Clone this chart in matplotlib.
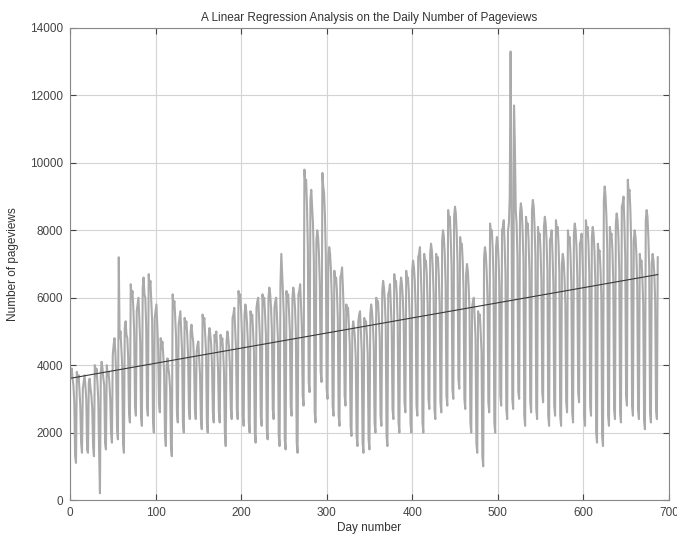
import numpy as np
import matplotlib
matplotlib.use("Agg")
import matplotlib.pyplot as plt

plt.rcParams['font.family'] = ['Liberation Sans', 'DejaVu Sans']

# Daily pageviews, one row per week (5 weekdays, 2 weekend days)
weeks = [
    [3700, 3900, 3600, 3400, 2900, 1300, 1100],
    [3800, 3500, 3700, 3300, 2800, 1700, 1400],
    [3300, 3500, 3700, 3400, 3000, 1500, 1400],
    [3500, 3600, 3300, 3100, 2700, 1600, 1300],
    [4000, 3700, 3900, 3500, 3000, 1500, 200],
    [3800, 4100, 3900, 3600, 3400, 1700, 1500],
    [4000, 3700, 3800, 3500, 3000, 2000, 1700],
    [4300, 4600, 4800, 4400, 3700, 2100, 1800],
    [7200, 4800, 5000, 4500, 4000, 1700, 1400],
    [5100, 5300, 4900, 4800, 4200, 2600, 2300],
    [6400, 6000, 6200, 5700, 5000, 2800, 2500],
    [5600, 5800, 6000, 5400, 4700, 2500, 2200],
    [6300, 6600, 6100, 6000, 5200, 2800, 2500],
    [6700, 6300, 6500, 5900, 5300, 2400, 2000],
    [5400, 5600, 5800, 5200, 4500, 2900, 2600],
    [4800, 4500, 4700, 4300, 3800, 2000, 1600],
    [4000, 4200, 3900, 3700, 3300, 1600, 1300],
    [6100, 5700, 5900, 5400, 4800, 2600, 2300],
    [5200, 5400, 5600, 5000, 4400, 2300, 2000],
    [5400, 5100, 5300, 4900, 4300, 2700, 2400],
    [5000, 5200, 4900, 4700, 4100, 2700, 2400],
    [4400, 4600, 4700, 4200, 3700, 2400, 2100],
    [5500, 5200, 5400, 4900, 4400, 2300, 2000],
    [4800, 5100, 4900, 4600, 4000, 2600, 2300],
    [4900, 4700, 5000, 4500, 3900, 2600, 2300],
    [4900, 4600, 4800, 4400, 3800, 2000, 1600],
    [4700, 5000, 4800, 4500, 3900, 2700, 2400],
    [5400, 5500, 5700, 5100, 4500, 2700, 2400],
    [6200, 5900, 6100, 5600, 4900, 2500, 2200],
    [5500, 5800, 5600, 5200, 4600, 2300, 2000],
    [5600, 5300, 5500, 5000, 4400, 2000, 1700],
    [5700, 5900, 6000, 5400, 4800, 2500, 2200],
    [6100, 5800, 6000, 5500, 4900, 2100, 1800],
    [6000, 6300, 6100, 5700, 5000, 2700, 2400],
    [5700, 5900, 6000, 5400, 4800, 1900, 1600],
    [6400, 7300, 6700, 6100, 5400, 1800, 1500],
    [6200, 5900, 6100, 5600, 5000, 2800, 2500],
    [6000, 6300, 6100, 5700, 5000, 1700, 1400],
    [6100, 6200, 6400, 5800, 5100, 3100, 2800],
    [9800, 9400, 9500, 8700, 7500, 3500, 3200],
    [8900, 9200, 8700, 8200, 7100, 2600, 2300],
    [7700, 8000, 7800, 7300, 6400, 3800, 3500],
    [9700, 9300, 9100, 8400, 7300, 3300, 3000],
    [7200, 7500, 7300, 6800, 6000, 2800, 2500],
    [6800, 6500, 6600, 6200, 5400, 2500, 2200],
    [6600, 6700, 6900, 6300, 5500, 3100, 2800],
    [5800, 5500, 5700, 5200, 4600, 2200, 1900],
    [5000, 5300, 5100, 4800, 4200, 1900, 1600],
    [5300, 5500, 5600, 5000, 4400, 1700, 1400],
    [5400, 5100, 5300, 4900, 4300, 1800, 1500],
    [5500, 5800, 5600, 5200, 4600, 2300, 2000],
    [6000, 5700, 5900, 5400, 4800, 2500, 2200],
    [6200, 6500, 6300, 5900, 5200, 1900, 1600],
    [6100, 6200, 6400, 5800, 5100, 2700, 2400],
    [6700, 6400, 6500, 6100, 5300, 2300, 2000],
    [6300, 6600, 6400, 6000, 5300, 2900, 2600],
    [6800, 6500, 6600, 6200, 5400, 2300, 2000],
    [6800, 7100, 6900, 6500, 5700, 2800, 2500],
    [7200, 7300, 7500, 6800, 6000, 2300, 2000],
    [7300, 7000, 7100, 6700, 5800, 3000, 2700],
    [7300, 7600, 7400, 6900, 6100, 2700, 2400],
    [7300, 7000, 7200, 6700, 5800, 2900, 2600],
    [7700, 8000, 7800, 7300, 6400, 3100, 2800],
    [8600, 8300, 8400, 7800, 6900, 3300, 3000],
    [8400, 8700, 8500, 7900, 7000, 3600, 3300],
    [7800, 7500, 7600, 7100, 6200, 3000, 2700],
    [6700, 7000, 6800, 6300, 5600, 2300, 2000],
    [5700, 5900, 6000, 5400, 4800, 1700, 1400],
    [5600, 5300, 5500, 5000, 4400, 1300, 1000],
    [7200, 7500, 7300, 6800, 6000, 2900, 2600],
    [8200, 7900, 8000, 7500, 6600, 2300, 2000],
    [7500, 7800, 7600, 7100, 6300, 3100, 2800],
    [8000, 8100, 8300, 7600, 6700, 2700, 2400],
    [8000, 8200, 9000, 13300, 9500, 3000, 2700],
    [11700, 10500, 8600, 8200, 7200, 3200, 3000],
    [8500, 8800, 8600, 8000, 7100, 2500, 2200],
    [8400, 8100, 8200, 7700, 6800, 2900, 2600],
    [8600, 8900, 8700, 8100, 7200, 2700, 2400],
    [8100, 7800, 7900, 7400, 6500, 3200, 2900],
    [8100, 8400, 8200, 7700, 6800, 2500, 2200],
    [7700, 7800, 8000, 7300, 6400, 2800, 2500],
    [8300, 8000, 8100, 7600, 6700, 2500, 2200],
    [7000, 7300, 7100, 6600, 5800, 2900, 2600],
    [8000, 7700, 7800, 7300, 6400, 2600, 2300],
    [7900, 8200, 8000, 7500, 6600, 3200, 2900],
    [7600, 7700, 7900, 7200, 6300, 2500, 2200],
    [8300, 8000, 8100, 7600, 6700, 2800, 2500],
    [7800, 8100, 7900, 7400, 6500, 2000, 1700],
    [7600, 7300, 7400, 6900, 6100, 1900, 1600],
    [8900, 9300, 9000, 8400, 7400, 2500, 2200],
    [8100, 7800, 7900, 7400, 6500, 2700, 2400],
    [8200, 8500, 8300, 7800, 6800, 2600, 2300],
    [8700, 8800, 9000, 8200, 7200, 3100, 2800],
    [9500, 9100, 9200, 8600, 7600, 2800, 2500],
    [7700, 8000, 7800, 7300, 6400, 2700, 2400],
    [7300, 7000, 7100, 6600, 5800, 2400, 2100],
    [8300, 8600, 8400, 7800, 6900, 2600, 2300],
    [7000, 7300, 7100, 6700, 5900, 2700, 2400],
    [7200],
]

pageviews = np.array([v for w in weeks for v in w], dtype=float)
days = np.arange(1, len(pageviews) + 1)

title = "A Linear Regression Analysis on the Daily Number of Pageviews"
xlabel = "Day number"
ylabel = "Number of pageviews"

fig = plt.figure(figsize=(6.77, 5.38), dpi=100)
ax = fig.add_axes([0.1034, 0.0706, 0.8846, 0.8774])

ax.plot(days, pageviews, color="#aaaaaa", lw=1.5)
coef = np.polyfit(days, pageviews, 1)
ax.plot(days, np.polyval(coef, days), color="#383838", lw=0.8)

ax.set_xlim(0, 700)
ax.set_ylim(0, 14000)
ax.set_xticks(np.arange(0, 701, 100))
ax.set_yticks(np.arange(0, 14001, 2000))
ax.grid(True, color="#d4d4d4", lw=0.8)
ax.set_axisbelow(True)
ax.tick_params(direction="in", top=True, right=True, labelsize=8.5,
               colors="#444444", length=4, pad=5)
for s in ax.spines.values():
    s.set_color("#888888")
ax.set_title(title, fontsize=8.5, color="#333333", pad=5)
ax.set_xlabel(xlabel, fontsize=8.5, color="#333333", labelpad=2)
ax.set_ylabel(ylabel, fontsize=8.5, color="#333333", labelpad=8)

fig.savefig("out.png", dpi=100)
